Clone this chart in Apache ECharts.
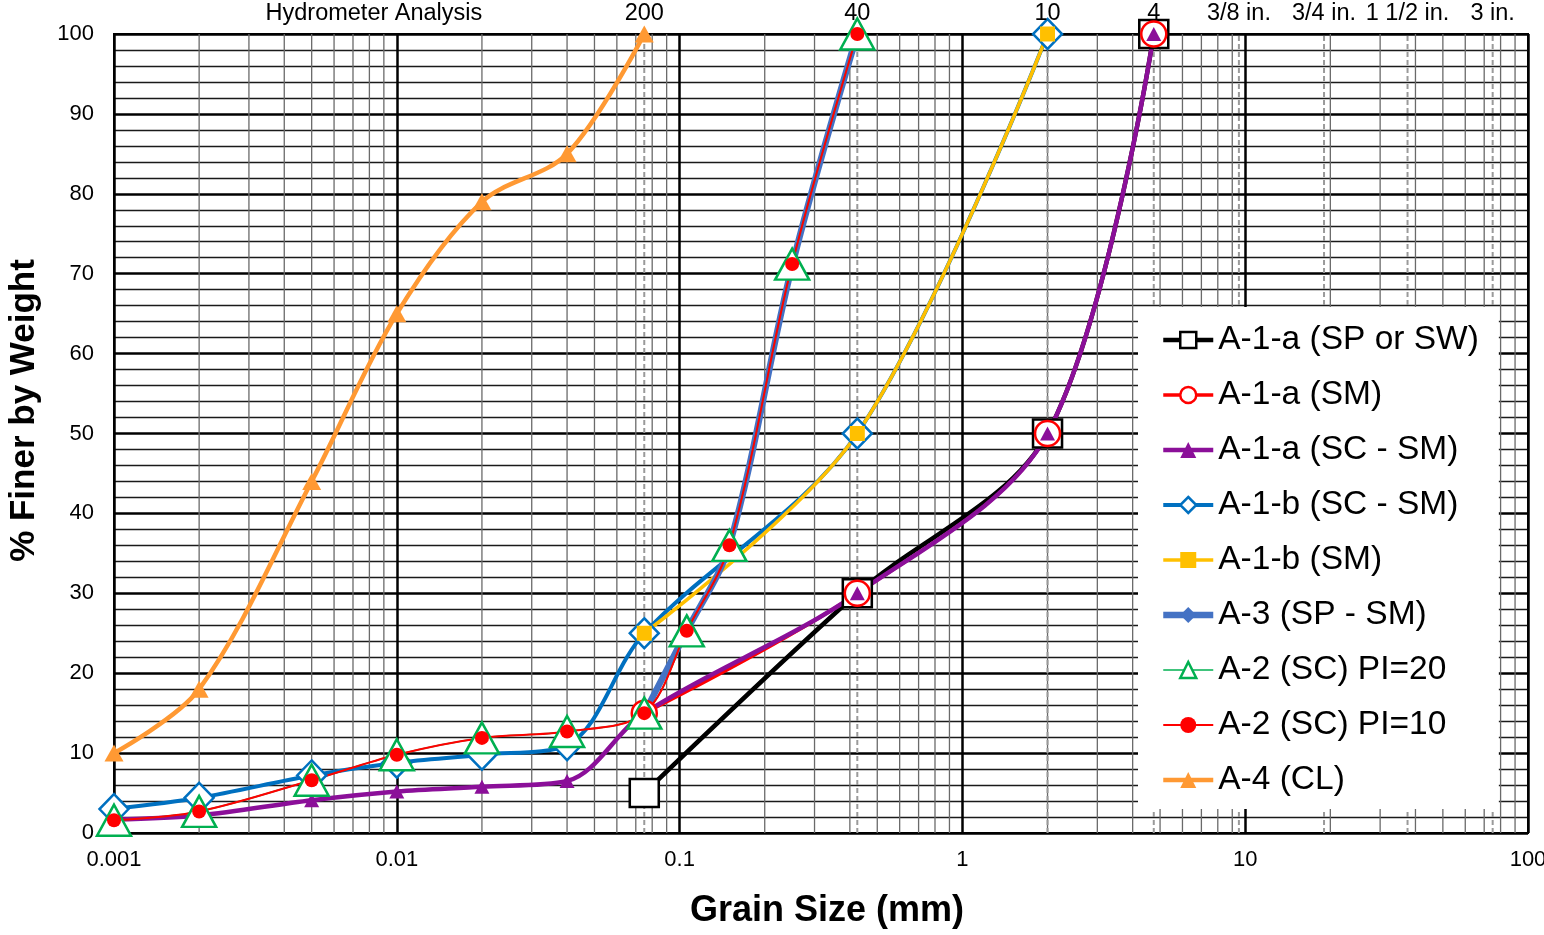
<!DOCTYPE html>
<html>
<head>
<meta charset="utf-8">
<script src="https://cdn.jsdelivr.net/npm/echarts@6/dist/echarts.min.js"></script>
<style>
html,body{margin:0;padding:0;background:#fff;}
#chart{width:1544px;height:935px;}
</style>
</head>
<body>
<div id="chart"></div>
<script>
// ---------- DATA ----------
const seriesNames = [
  'A-1-a (SP or SW)', 'A-1-a (SM)', 'A-1-a (SC - SM)', 'A-1-b (SC - SM)',
  'A-1-b (SM)', 'A-3 (SP - SM)', 'A-2 (SC) PI=20', 'A-2 (SC) PI=10', 'A-4 (CL)'
];
const a1aSpSwSize = [0.075, 0.425, 2.0, 4.75];
const a1aSpSwPct  = [5, 30, 50, 100];
const a1aSmSize = [0.075, 0.425, 2.0, 4.75];
const a1aSmPct  = [15, 30, 50, 100];
const a1aScSmSize = [0.001, 0.002, 0.005, 0.01, 0.02, 0.04, 0.075, 0.425, 2.0, 4.75];
const a1aScSmPct  = [1.7, 2.2, 4.1, 5.2, 5.8, 6.5, 15, 30, 50, 100];
const a1bScSmSize = [0.001, 0.002, 0.005, 0.01, 0.02, 0.04, 0.075, 0.425, 2.0];
const a1bScSmPct  = [3.0, 4.4, 7.2, 8.8, 9.8, 11.0, 25, 50, 100];
const a1bSmSize = [0.075, 0.425, 2.0];
const a1bSmPct  = [25, 50, 100];
const a3Size = [0.075, 0.106, 0.15, 0.25, 0.425];
const a3Pct  = [15, 25.3, 36, 71, 100];
const a2Pi20Size = [0.001, 0.002, 0.005, 0.01, 0.02, 0.04, 0.075, 0.106, 0.15, 0.25, 0.425];
const a2Pi20Pct  = [1.6, 2.7, 6.6, 9.8, 11.9, 12.7, 15, 25.3, 36, 71.2, 100];
const a2Pi10Size = [0.001, 0.002, 0.005, 0.01, 0.02, 0.04, 0.075, 0.106, 0.15, 0.25, 0.425];
const a2Pi10Pct  = [1.6, 2.7, 6.6, 9.8, 11.9, 12.7, 15, 25.3, 36, 71.2, 100];
const a4Size = [0.001, 0.002, 0.005, 0.01, 0.02, 0.04, 0.075];
const a4Pct  = [10, 18, 44, 65, 79, 85, 100];

const sieveSizesMm = [0.075, 0.425, 2.0, 4.75, 9.5, 19, 37.5, 75];
const sieveLabels  = ['200', '40', '10', '4', '3/8 in.', '3/4 in.', '1 1/2 in.', '3 in.'];
const hydrometerLabel = 'Hydrometer Analysis';
const hydrometerLabelAt = 0.0083;

const decades = [0.001, 0.01, 0.1, 1, 10];
const minorMultipliers = [2, 3, 4, 5, 6, 7, 8, 9];

// ---------- BUILD ----------
const FONT = 'Liberation Sans, Arial, sans-serif';
function pairs(xs, ys) { return xs.map((x, i) => [x, ys[i]]); }

function vline(x, style) {
  return {
    name: '_grid', type: 'line', data: [[x, 0], [x, 100]], silent: true, z: 1,
    symbol: 'none', lineStyle: style, emphasis: { disabled: true }, animation: false
  };
}

const gridSeries = [];
decades.forEach(d => minorMultipliers.forEach(m =>
  gridSeries.push(vline(+(d * m).toPrecision(3), { color: '#6a6a6a', width: 1.3, type: 'solid' }))));
sieveSizesMm.forEach(s =>
  gridSeries.push(vline(s, { color: '#9a9a9a', width: 2, type: [5, 3] })));

const topLabelData = sieveSizesMm.map((s, i) => ({ value: [s, 100], name: sieveLabels[i] }));
topLabelData.push({ value: [hydrometerLabelAt, 100], name: hydrometerLabel });

function mk(name, xs, ys, color, width, symbol, size, hollow, bw) {
  return {
    name, type: 'line', data: pairs(xs, ys), smooth: 0.33,
    symbol, symbolSize: size, showSymbol: true,
    lineStyle: { color, width },
    itemStyle: hollow ? { color: '#fff', borderColor: color, borderWidth: bw || 2.5 }
                      : { color, borderColor: color, borderWidth: 0 },
    emphasis: { disabled: true }, z: 3
  };
}

const series = gridSeries.concat([
  {
    name: '_toplabels', type: 'scatter', data: topLabelData, silent: true, z: 5,
    symbol: 'circle', symbolSize: 0.001, clip: false,
    itemStyle: { color: '#000', opacity: 1 },
    label: { show: true, position: 'top', distance: 8, formatter: p => p.name,
      color: '#000', opacity: 1, textBorderWidth: 0, fontSize: 23.5, fontFamily: FONT },
    emphasis: { disabled: true }
  },
  mk(seriesNames[0], a1aSpSwSize, a1aSpSwPct, '#000000', 4.5, 'rect', [29, 28], true, 2.5),
  mk(seriesNames[1], a1aSmSize, a1aSmPct, '#FF0000', 3.5, 'circle', 25, true, 2.5),
  mk(seriesNames[2], a1aScSmSize, a1aScSmPct, '#8B0F99', 4.5, 'triangle', [15, 14], false),
  mk(seriesNames[3], a1bScSmSize, a1bScSmPct, '#0070C0', 4, 'diamond', [29, 30], true, 2.5),
  mk(seriesNames[4], a1bSmSize, a1bSmPct, '#FFC000', 3.5, 'rect', 15, false),
  mk(seriesNames[5], a3Size, a3Pct, '#4472C4', 6.5, 'diamond', 16, false),
  mk(seriesNames[6], a2Pi20Size, a2Pi20Pct, '#00B050', 1.5, 'triangle', [34, 31], true, 2.5),
  mk(seriesNames[7], a2Pi10Size, a2Pi10Pct, '#FF0000', 2, 'circle', 14, false),
  mk(seriesNames[8], a4Size, a4Pct, '#FF9933', 4.5, 'triangle', [19, 17], false)
]);

const chart = echarts.init(document.getElementById('chart'), null, { renderer: 'canvas' });
chart.setOption({
  animation: false,
  backgroundColor: '#fff',
  textStyle: { fontFamily: FONT },
  grid: { left: 114, right: 16, top: 34, bottom: 102, show: true, containLabel: false,
          outerBoundsMode: 'none',
          borderColor: '#000', borderWidth: 2, backgroundColor: 'transparent' },
  legend: {
    data: seriesNames, orient: 'vertical', left: 1138, top: 307,
    backgroundColor: '#fff', padding: [16, 20, 12, 22],
    itemWidth: 50, itemHeight: 20, itemGap: 21,
    textStyle: { fontSize: 33.5, fontFamily: FONT, color: '#000', lineHeight: 34 },
    lineStyle: { width: 'inherit' },
    itemStyle: { borderWidth: 'inherit' },
    selectedMode: false, z: 10
  },
  xAxis: {
    type: 'log', logBase: 10, min: 0.001, max: 100,
    name: 'Grain Size (mm)', nameLocation: 'middle', nameGap: 60,
    nameTextStyle: { fontSize: 36, fontWeight: 'bold', color: '#000', fontFamily: FONT, padding: [0, 0, 0, 12] },
    axisLine: { show: true, onZero: false, lineStyle: { color: '#000', width: 2 } },
    axisTick: { show: false },
    axisLabel: { color: '#000', fontSize: 22, margin: 16, fontFamily: FONT,
      formatter: v => String(+v.toPrecision(3)) },
    splitLine: { show: true, lineStyle: { color: '#000', width: 2.5 } },
    minorTick: { show: false }, minorSplitLine: { show: false }
  },
  yAxis: {
    type: 'value', min: 0, max: 100, interval: 10,
    name: '% Finer by Weight', nameLocation: 'middle', nameGap: 72, nameRotate: 90,
    nameTextStyle: { fontSize: 35, fontWeight: 'bold', color: '#000', fontFamily: FONT, padding: [0, 0, 0, 46] },
    axisLine: { show: true, onZero: false, lineStyle: { color: '#000', width: 2 } },
    axisTick: { show: false },
    axisLabel: { color: '#000', fontSize: 22, margin: 20, fontFamily: FONT },
    splitLine: { show: true, lineStyle: { color: '#000', width: 2.5 } },
    minorTick: { show: false, splitNumber: 5 },
    minorSplitLine: { show: true, lineStyle: { color: '#1a1a1a', width: 1.3 } }
  },
  series
});
</script>
</body>
</html>
